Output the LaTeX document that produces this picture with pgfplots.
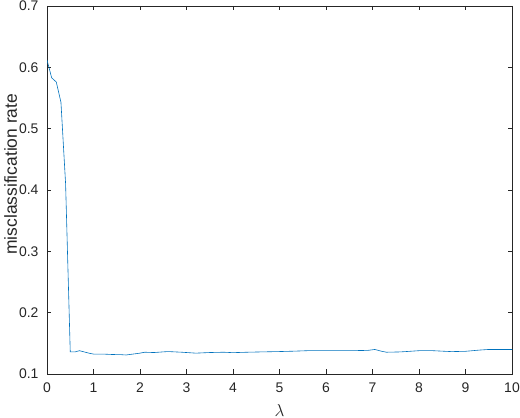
\documentclass[border=0pt]{standalone}
\usepackage{fontspec}
\setmainfont{Liberation Sans}
\usepackage{pgfplots}
\pgfplotsset{compat=1.18}
\definecolor{mlblue}{rgb}{0,0.447,0.741}
\definecolor{axgray}{rgb}{0.15,0.15,0.15}
\begin{document}
\begin{tikzpicture}
\path[use as bounding box] (-47bp,-44bp) rectangle (473bp,374bp);
\begin{axis}[
  at={(0,0)}, anchor=south west,
  scale only axis,
  width=465bp, height=368bp,
  xmin=0, xmax=10, ymin=0.1, ymax=0.7,
  xtick={0,1,...,10},
  ytick={0.1,0.2,0.3,0.4,0.5,0.6,0.7},
  yticklabels={0.1,0.2,0.3,0.4,0.5,0.6,0.7},
  tick align=inside,
  major tick length=4.5bp,
  axis line style={axgray, line width=0.5pt},
  tick style={axgray, line width=0.5pt},
  tick label style={font=\fontsize{14}{16}\selectfont, text=axgray},
  /pgf/number format/assume math mode=true,
  xticklabel style={yshift=-5bp},
  yticklabel style={xshift=-5bp},
  xlabel={$\lambda$},
  ylabel={misclassification rate},
  every axis x label/.append style={at={(axis description cs:0.5,-0.098)}, anchor=center, font=\fontsize{16}{18}\selectfont, text=axgray},
  every axis y label/.append style={at={(axis description cs:-0.078,0.543)}, rotate=0, anchor=center, font=\fontsize{17.5}{19}\selectfont, text=axgray},
]
\addplot[mlblue, line width=0.6pt] coordinates {
(0,0.612) (0.1,0.583) (0.2,0.576) (0.3,0.543) (0.4,0.41) (0.5,0.136)
(0.6,0.136) (0.7,0.138) (0.8,0.136) (0.9,0.134) (1.0,0.1325) (1.2,0.1325)
(1.4,0.1318) (1.6,0.1315) (1.7,0.131) (1.8,0.132) (2.0,0.134) (2.1,0.1355)
(2.3,0.135) (2.6,0.1366) (2.9,0.1355) (3.2,0.134) (3.5,0.135) (3.8,0.1355)
(4.0,0.1348) (4.3,0.1355) (4.6,0.136) (5.0,0.1366) (5.3,0.1372) (5.6,0.138)
(6.0,0.138) (6.5,0.138) (6.9,0.1385) (7.05,0.140) (7.2,0.137) (7.3,0.1355)
(7.6,0.136) (8.0,0.138) (8.3,0.138) (8.7,0.1365) (9.0,0.137) (9.3,0.139)
(9.5,0.140) (10,0.140)
};
\end{axis}
\end{tikzpicture}
\end{document}
